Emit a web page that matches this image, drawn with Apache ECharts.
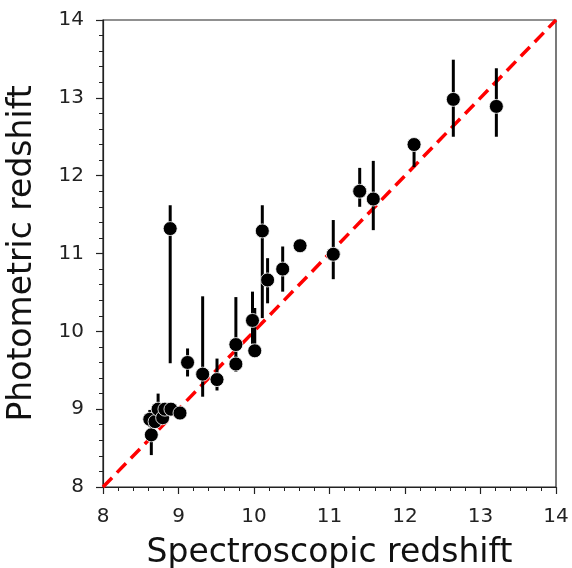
<!DOCTYPE html>
<html>
<head>
<meta charset="utf-8">
<script src="https://cdn.jsdelivr.net/npm/echarts@6/dist/echarts.min.js"></script>
<style>html,body{margin:0;padding:0;background:#fff}#c{width:572px;height:568px}</style>
</head>
<body>
<div id="c"></div>
<script>
// Spectroscopic redshift (x), photometric redshift (y), lower/upper errors
var specZ = [8.64, 8.62, 8.69, 8.73, 8.79, 8.82, 8.90, 9.02, 8.89, 9.12, 9.32, 9.51, 9.76, 9.76, 9.98, 10.01, 10.11, 10.18, 10.38, 10.61, 11.05, 11.40, 11.58, 12.12, 12.64, 13.21];
var photZ = [8.67, 8.87, 8.84, 9.00, 8.89, 9.00, 9.00, 8.95, 11.32, 9.60, 9.45, 9.38, 9.58, 9.83, 10.14, 9.75, 11.29, 10.66, 10.80, 11.10, 10.99, 11.80, 11.70, 12.40, 12.98, 12.89];
var errLo = [0.26, 0.10, 0.05, 0.15, 0.05, 0.05, 0.05, 0.05, 1.73, 0.18, 0.29, 0.14, 0.10, 0.20, 0.30, 0.05, 1.12, 0.30, 0.29, 0.07, 0.32, 0.20, 0.40, 0.29, 0.48, 0.39];
var errHi = [0.15, 0.12, 0.05, 0.20, 0.05, 0.05, 0.05, 0.05, 0.30, 0.18, 1.00, 0.27, 0.10, 0.61, 0.37, 0.55, 0.33, 0.28, 0.29, 0.02, 0.44, 0.30, 0.49, 0.03, 0.51, 0.49];
var oneToOne = [[8, 8], [14, 14]];
var xTicks = [8, 9, 10, 11, 12, 13, 14];
var yTicks = [8, 9, 10, 11, 12, 13, 14];

var points = specZ.map(function (x, i) { return [x, photZ[i]]; });
var bars = specZ.map(function (x, i) { return [x, photZ[i] - errLo[i], photZ[i] + errHi[i]]; });

var chart = echarts.init(document.getElementById('c'));
var font = 'DejaVu Sans';
chart.setOption({
  animation: false,
  backgroundColor: '#fff',
  grid: { left: 103, right: 16, top: 20, bottom: 81, containLabel: false, outerBoundsMode: 'none', show: true, borderColor: '#222', borderWidth: 1.2, backgroundColor: 'transparent' },
  xAxis: {
    type: 'value', min: xTicks[0], max: xTicks[xTicks.length - 1], interval: 1,
    name: 'Spectroscopic redshift', nameLocation: 'middle', nameGap: 50,
    nameTextStyle: { fontFamily: font, fontSize: 33, color: '#111' },
    axisLine: { show: true, lineStyle: { color: '#222', width: 1.2 } },
    axisTick: { show: true, inside: false, length: 7, lineStyle: { color: '#222', width: 1.2 } },
    minorTick: { show: true, splitNumber: 5, length: 4, lineStyle: { color: '#222', width: 1 } },
    axisLabel: { fontFamily: font, fontSize: 20, color: '#222', margin: 20 },
    splitLine: { show: false }
  },
  yAxis: {
    type: 'value', min: yTicks[0], max: yTicks[yTicks.length - 1], interval: 1,
    name: 'Photometric redshift', nameLocation: 'middle', nameGap: 64, nameRotate: 90,
    nameTextStyle: { fontFamily: font, fontSize: 33, color: '#111' },
    axisLine: { show: true, lineStyle: { color: '#222', width: 1.2 } },
    axisTick: { show: true, inside: false, length: 7, lineStyle: { color: '#222', width: 1.2 } },
    minorTick: { show: true, splitNumber: 5, length: 4, lineStyle: { color: '#222', width: 1 } },
    axisLabel: { fontFamily: font, fontSize: 20, color: '#222', margin: 19 },
    splitLine: { show: false }
  },
  series: [
    {
      type: 'line', data: oneToOne, symbol: 'none', z: 1, silent: true,
      lineStyle: { color: '#ff0000', width: 3.5, type: [13, 7] }
    },
    {
      type: 'custom', z: 2, silent: true,
      data: bars,
      renderItem: function (params, api) {
        var p1 = api.coord([api.value(0), api.value(1)]);
        var p2 = api.coord([api.value(0), api.value(2)]);
        return { type: 'line', shape: { x1: p1[0], y1: p1[1], x2: p2[0], y2: p2[1] }, style: { stroke: '#000', lineWidth: 3 } };
      },
      encode: { x: 0, y: [1, 2] }
    },
    {
      type: 'scatter', z: 3, data: points, symbol: 'circle', symbolSize: 14,
      itemStyle: { color: '#000', borderColor: '#fff', borderWidth: 0.8, opacity: 1 }
    }
  ]
});
</script>
</body>
</html>
